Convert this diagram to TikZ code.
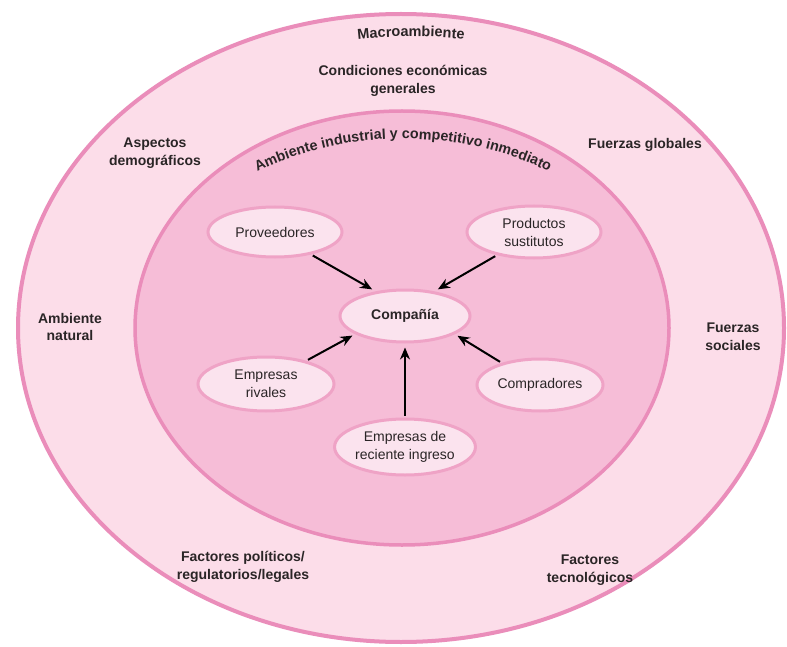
\documentclass[tikz,border=0pt]{standalone}
\usepackage{fontspec}
\setmainfont{Liberation Sans}
\usetikzlibrary{shapes.geometric,arrows.meta,decorations.text}
\definecolor{outerfill}{HTML}{FCDDE9}
\definecolor{innerfill}{HTML}{F6BDD7}
\definecolor{rim}{HTML}{EA8DBA}
\definecolor{nodefill}{HTML}{FBE3EE}
\definecolor{noderim}{HTML}{EFA3C6}
\definecolor{ink}{HTML}{2A2526}
\begin{document}
\begin{tikzpicture}[x=1pt,y=-1pt,
  lab/.style={font=\fontsize{14}{17.5}\selectfont\bfseries, text=ink, align=center, inner sep=0pt},
  bub/.style={ellipse, fill=nodefill, draw=noderim, line width=3pt, inner sep=0pt,
    font=\fontsize{14}{18}\selectfont, text=ink, align=center},
  arr/.style={-{Stealth[length=12pt,width=10pt]}, line width=2pt, black}]
\useasboundingbox (0,0) rectangle (787,647);
\fill[white] (0,0) rectangle (787,647);
% rings
\draw[fill=outerfill, draw=rim, line width=4pt] (401,328) ellipse [x radius=383pt, y radius=314pt];
\draw[fill=innerfill, draw=rim, line width=3.5pt] (402,328) ellipse [x radius=267pt, y radius=217pt];
% curved titles
\path[decorate, decoration={text along path, text align=center,
  text={|\fontsize{14.5}{17}\selectfont\bfseries\color{ink}|Macroambiente}}]
  (346,41) .. controls (382,35) and (440,35) .. (476,41);
\path[decorate, decoration={text along path, text align=center,
  text={|\fontsize{14.3}{17}\selectfont\bfseries\color{ink}|Ambiente industrial y competitivo inmediato}}]
  (253,174) .. controls (343,127) and (463,127) .. (553,174);
% macro labels
\node[lab] (econ) at (403,81) {Condiciones económicas\\generales};
\node[lab] (demo) at (155,153) {Aspectos\\demográficos};
\node[lab] (glob) at (645,145) {Fuerzas globales};
\node[lab] (nat) at (70,327) {Ambiente\\natural};
\node[lab] (soc) at (733,337) {Fuerzas\\sociales};
\node[lab] (pol) at (243,567) {Factores políticos/\\regulatorios/legales};
\node[lab] (tec) at (590,570) {Factores\\tecnológicos};
% industry nodes
\node[bub, minimum width=134pt, minimum height=50pt] (prov) at (275,232) {Proveedores};
\node[bub, minimum width=134pt, minimum height=52pt] (sust) at (534,232) {Productos\\sustitutos};
\node[bub, minimum width=130pt, minimum height=52pt, font=\fontsize{14}{18}\selectfont\bfseries] (comp) at (405,316) {Compañía};
\node[bub, minimum width=136pt, minimum height=54pt] (riv) at (266,384) {Empresas\\rivales};
\node[bub, minimum width=126pt, minimum height=52pt] (compr) at (540,385) {Compradores};
\node[bub, minimum width=136pt, minimum height=56pt] (nuevo) at (405,447) {Empresas de\\reciente ingreso};
% arrows
\draw[arr, shorten <=2pt, shorten >=4pt] (prov.-32) -- (comp.140);
\draw[arr, shorten <=2pt, shorten >=4pt] (sust.212) -- (comp.40);
\draw[arr, shorten <=2pt, shorten >=3pt] (riv.30) -- (comp.200);
\draw[arr, shorten <=2pt, shorten >=3pt] (compr.150) -- (comp.-20);
\draw[arr, shorten <=2pt, shorten >=4pt] (nuevo.90) -- (comp.-90);
\end{tikzpicture}
\end{document}
